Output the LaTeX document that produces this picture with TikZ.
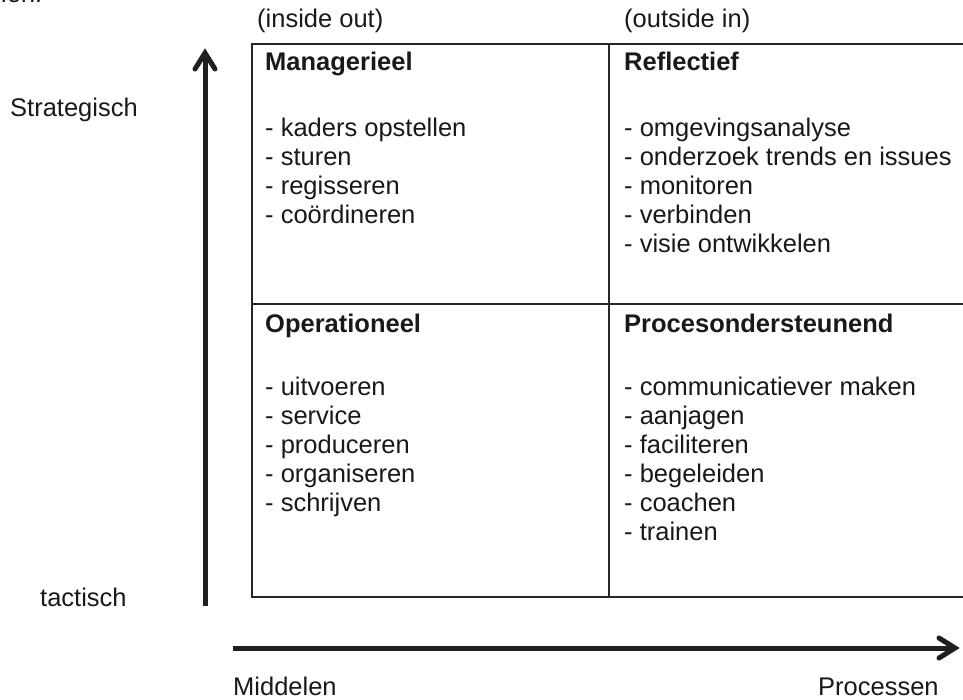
\documentclass[tikz,border=0pt]{standalone}
\usepackage{fontspec}
\setmainfont{Liberation Sans}
\begin{document}
\begin{tikzpicture}[x=1pt,y=-1pt,
  txt/.style={anchor=base west,inner sep=0pt,text=black!90,
    font=\fontsize{25.5}{29}\selectfont},
  head/.style={txt,font=\fontsize{25.5}{29}\selectfont\bfseries},
  grid/.style={line width=2pt,draw=black!85},
  axis/.style={line width=5pt,draw=black!88},
  barb/.style={line width=5pt,draw=black!88,line cap=round,line join=miter}]
\useasboundingbox (0,0) rectangle (963,700);
\clip (0,0) rectangle (963,700);
\fill[white] (0,0) rectangle (963,700);

% cut-off caption line above the figure
\node[txt,font=\fontsize{25.5}{29}\selectfont\itshape] (cap) at (2,3) {len.};

% quadrant grid (open to the right)
\coordinate (tl) at (252,44);
\coordinate (ml) at (252,304);
\coordinate (bl) at (252,597);
\coordinate (tm) at (609,44);
\coordinate (bm) at (609,597);
\coordinate (tr) at (970,44);
\coordinate (mr) at (970,304);
\coordinate (br) at (970,597);
\draw[grid] (tr) -- (tl) -- (bl) -- (br);
\draw[grid] (ml) -- (mr);
\draw[grid] (tm) -- (bm);

% column captions
\node[txt] (io) at (257,28) {(inside out)};
\node[txt] (oi) at (624,28) {(outside in)};

% quadrant headings
\node[head] (h1) at (265,71) {Managerieel};
\node[head] (h2) at (624,71) {Reflectief};
\node[head] (h3) at (265,332) {Operationeel};
\node[head] (h4) at (624,332) {Procesondersteunend};

% quadrant lists, one line every 29pt
\foreach \t [count=\i from 0] in {kaders opstellen,sturen,regisseren,coördineren}
  \node[txt] (a\i) at (265,137+29*\i) {- \t};
\foreach \t [count=\i from 0] in {omgevingsanalyse,onderzoek trends en issues,monitoren,verbinden,visie ontwikkelen}
  \node[txt] (b\i) at (624,137+29*\i) {- \t};
\foreach \t [count=\i from 0] in {uitvoeren,service,produceren,organiseren,schrijven}
  \node[txt] (c\i) at (265,395+29*\i) {- \t};
\foreach \t [count=\i from 0] in {communicatiever maken,aanjagen,faciliteren,begeleiden,coachen,trainen}
  \node[txt] (d\i) at (624,395+29*\i) {- \t};

% axes with chevron heads
\coordinate (v0) at (205,606);
\coordinate (v1) at (205,53);
\coordinate (h0) at (233,648);
\coordinate (h1e) at (955,648);
\draw[axis] (v0) -- (v1);
\draw[axis] (h0) -- (h1e);
\draw[barb] ([shift={(-10,16)}]v1) -- (v1) -- ([shift={(10,16)}]v1);
\draw[barb] ([shift={(-16,-10)}]h1e) -- (h1e) -- ([shift={(-16,10)}]h1e);

% axis labels
\node[txt] (strat) at (10,117) {Strategisch};
\node[txt] (tact) at (40,606) {tactisch};
\node[txt] (midd) at (233,695) {Middelen};
\node[txt] (proc) at (818,695) {Processen};
\end{tikzpicture}
\end{document}
